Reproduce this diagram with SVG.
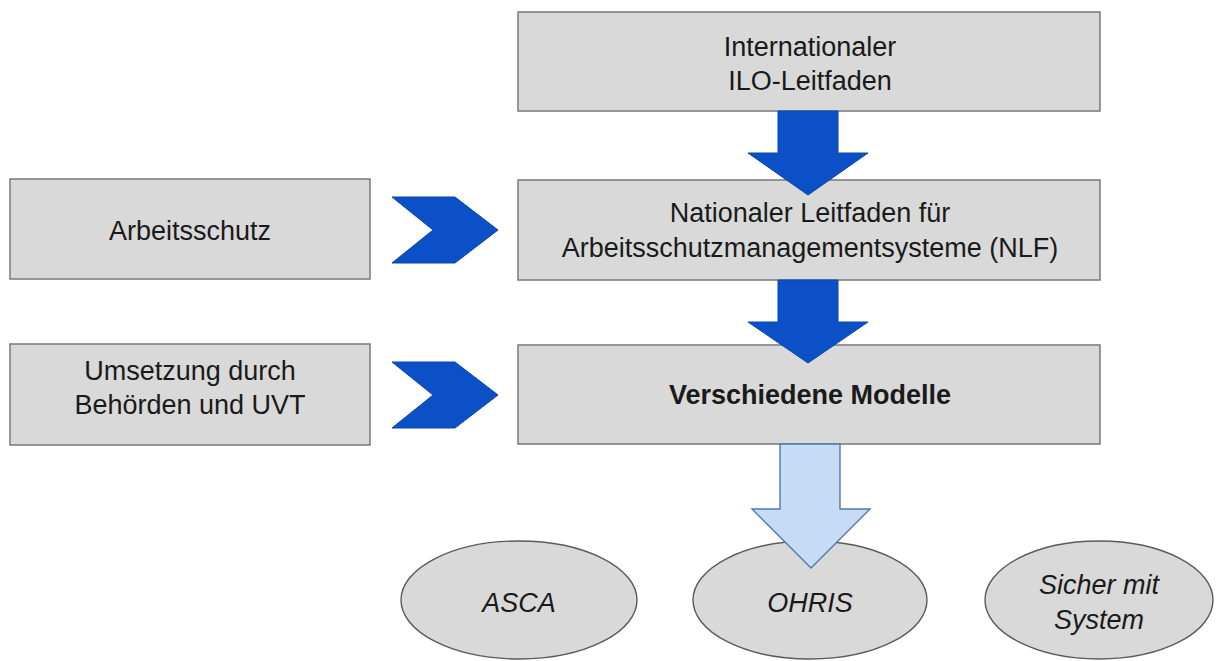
<svg xmlns="http://www.w3.org/2000/svg" width="1216" height="661" viewBox="0 0 1216 661">
<style>
.box{fill:#d9d9d9;stroke:#7f7f7f;stroke-width:1.6}
.ell{fill:#d9d9d9;stroke:#5a5a5a;stroke-width:1.4}
.dark{fill:#0b50c6;stroke:#0a46ad;stroke-width:1}
.light{fill:#c6dcf5;stroke:#4f79ad;stroke-width:1.4}
text{font-family:"Liberation Sans",Arial,sans-serif;font-size:27px;fill:#1a1a1a;text-anchor:middle}
.b{font-weight:bold}
.i{font-style:italic}
</style>
<rect width="1216" height="661" fill="#ffffff"/>
<g id="node-ilo">
<rect class="box" x="518" y="12" width="582" height="99"/>
<text x="810" y="56">Internationaler</text>
<text x="810" y="90">ILO-Leitfaden</text>
</g>
<g id="node-nlf">
<rect class="box" x="518" y="180" width="582" height="100"/>
<text x="810" y="222">Nationaler Leitfaden für</text>
<text x="810" y="257">Arbeitsschutzmanagementsysteme (NLF)</text>
</g>
<g id="node-modelle">
<rect class="box" x="518" y="345" width="582" height="99"/>
<text class="b" x="810" y="404">Verschiedene Modelle</text>
</g>
<g id="node-arbeitsschutz">
<rect class="box" x="10" y="179" width="360" height="100"/>
<text x="190" y="240">Arbeitsschutz</text>
</g>
<g id="node-umsetzung">
<rect class="box" x="10" y="344" width="360" height="101"/>
<text x="190" y="380">Umsetzung durch</text>
<text x="190" y="414">Behörden und UVT</text>
</g>
<g id="node-asca">
<ellipse class="ell" cx="519" cy="600" rx="118" ry="59"/>
<text class="i" x="519" y="612">ASCA</text>
</g>
<g id="node-ohris">
<ellipse class="ell" cx="810" cy="600" rx="117" ry="59"/>
<text class="i" x="810" y="612">OHRIS</text>
</g>
<g id="node-sicher">
<ellipse class="ell" cx="1099" cy="600" rx="114" ry="59"/>
<text class="i" x="1099" y="594">Sicher mit</text>
<text class="i" x="1099" y="629">System</text>
</g>
<g id="connectors">
<polygon class="dark" points="778,111 838,111 838,153 868,153 808,195 748,153 778,153"/>
<polygon class="dark" points="778,280 838,280 838,322 868,322 808,363 748,322 778,322"/>
<polygon class="light" points="780,444 840,444 840,509 870,509 811,568 752,509 780,509"/>
<polygon class="dark" points="392,197 455,197 498,230 455,263 392,263 433,230"/>
<polygon class="dark" points="392,362 455,362 498,395 455,428 392,428 433,395"/>
</g>
</svg>
